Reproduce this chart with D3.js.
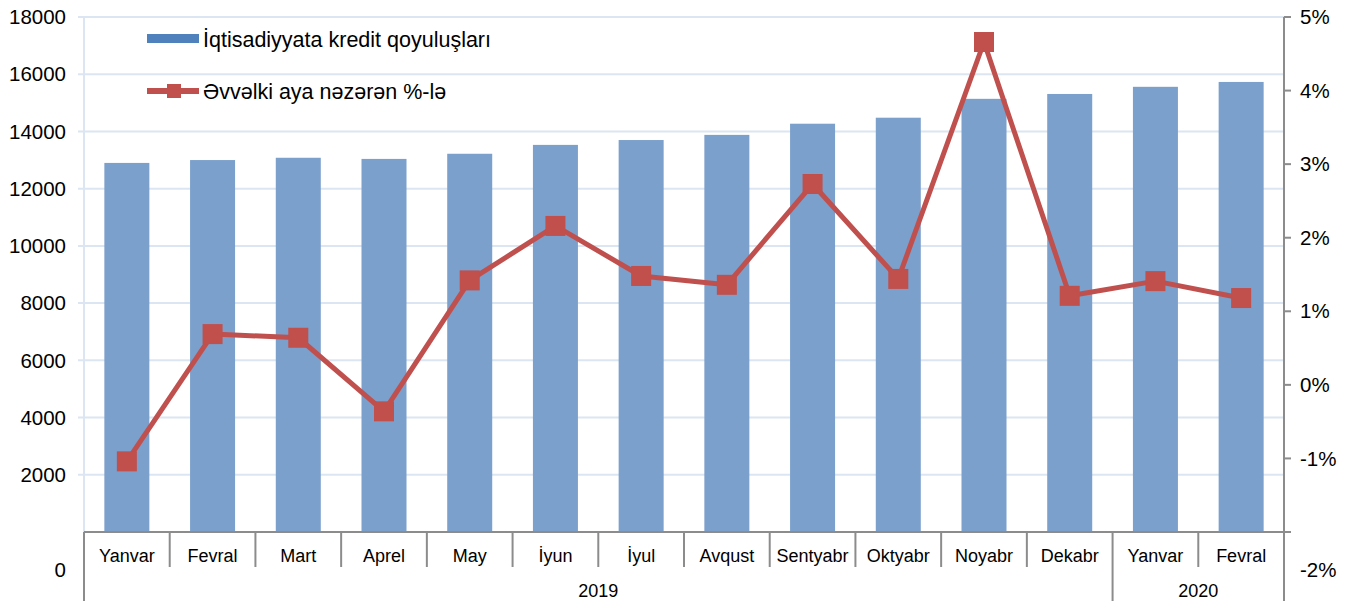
<!DOCTYPE html>
<html>
<head>
<meta charset="utf-8">
<script src="https://cdn.jsdelivr.net/npm/d3@7"></script>
<style>
  body { margin: 0; background: #fff; }
  text { font-family: "Liberation Sans", Arial, sans-serif; fill: #000; }
</style>
</head>
<body>
<svg width="1357" height="601"></svg>
<script>
const months = ["Yanvar", "Fevral", "Mart", "Aprel", "May", "İyun", "İyul", "Avqust",
    "Sentyabr", "Oktyabr", "Noyabr", "Dekabr", "Yanvar", "Fevral"];
const years = [{ label: "2019", from: 0, to: 11 }, { label: "2020", from: 12, to: 13 }];
const credit = [12900, 13000, 13080, 13040, 13220, 13530, 13700, 13880, 14270, 14480, 15140, 15310, 15560, 15730];
const change = [-1.04, 0.69, 0.64, -0.36, 1.42, 2.16, 1.48, 1.36, 2.73, 1.44, 4.66, 1.21, 1.41, 1.18];
const leftTicks = [2000, 4000, 6000, 8000, 10000, 12000, 14000, 16000, 18000];
const rightTicks = [-1, 0, 1, 2, 3, 4, 5];

const plotLeft = 84, plotRight = 1284, plotTop = 17, plotBottom = 532;

const svg = d3.select("svg");

const x = d3.scaleBand()
    .domain(d3.range(months.length))
    .range([plotLeft, plotRight])
    .paddingInner(0.475)
    .paddingOuter(0.2375);

const yL = d3.scaleLinear().domain([0, 18000]).range([plotBottom, plotTop]);
const yR = d3.scaleLinear().domain([-2, 5]).range([plotBottom, plotTop]);

// gridlines
svg.append("g")
    .selectAll("line")
    .data(leftTicks)
    .enter().append("line")
    .attr("x1", plotLeft - 6)
    .attr("x2", plotRight)
    .attr("y1", d => yL(d))
    .attr("y2", d => yL(d))
    .attr("stroke", "#dce6f2")
    .attr("stroke-width", 2);

svg.append("line")
    .attr("x1", plotLeft).attr("x2", plotLeft)
    .attr("y1", plotTop).attr("y2", plotBottom)
    .attr("stroke", "#dce6f2").attr("stroke-width", 2);

// left labels
svg.append("g")
    .selectAll("text")
    .data(leftTicks)
    .enter().append("text")
    .attr("x", 66)
    .attr("y", d => yL(d))
    .attr("dy", "0.35em")
    .attr("text-anchor", "end")
    .attr("font-size", 20.5)
    .text(d => d);

svg.append("text")
    .attr("x", 66).attr("y", 570).attr("dy", "0.35em")
    .attr("text-anchor", "end").attr("font-size", 20.5).text("0");

// bars
svg.append("g")
    .selectAll("rect")
    .data(credit)
    .enter().append("rect")
    .attr("x", (d, i) => x(i))
    .attr("width", x.bandwidth())
    .attr("y", d => yL(d))
    .attr("height", d => plotBottom - yL(d))
    .attr("fill", "#7ba0cb");

// category axis
const axisColor = "#8c8c8c";
svg.append("line")
    .attr("x1", plotLeft).attr("x2", plotRight)
    .attr("y1", plotBottom).attr("y2", plotBottom)
    .attr("stroke", axisColor).attr("stroke-width", 2);

const step = x.step();
svg.append("g")
    .selectAll("line")
    .data(d3.range(months.length + 1))
    .enter().append("line")
    .attr("x1", i => plotLeft + i * step)
    .attr("x2", i => plotLeft + i * step)
    .attr("y1", plotBottom)
    .attr("y2", i => (i === 0 || i === months.length || i === 12) ? 601 : 567)
    .attr("stroke", axisColor)
    .attr("stroke-width", 2);

svg.append("g")
    .selectAll("text")
    .data(months)
    .enter().append("text")
    .attr("x", (d, i) => x(i) + x.bandwidth() / 2)
    .attr("y", 562)
    .attr("text-anchor", "middle")
    .attr("font-size", 18)
    .text(d => d);

svg.append("g")
    .selectAll("text")
    .data(years)
    .enter().append("text")
    .attr("x", d => (plotLeft + d.from * step + plotLeft + (d.to + 1) * step) / 2)
    .attr("y", 597)
    .attr("text-anchor", "middle")
    .attr("font-size", 18)
    .text(d => d.label);

// right axis
svg.append("line")
    .attr("x1", plotRight).attr("x2", plotRight)
    .attr("y1", plotTop).attr("y2", plotBottom)
    .attr("stroke", axisColor).attr("stroke-width", 2);

svg.append("g")
    .selectAll("line")
    .data([-2].concat(rightTicks))
    .enter().append("line")
    .attr("x1", plotRight).attr("x2", plotRight + 7)
    .attr("y1", d => yR(d)).attr("y2", d => yR(d))
    .attr("stroke", axisColor).attr("stroke-width", 2);

svg.append("g")
    .selectAll("text")
    .data(rightTicks)
    .enter().append("text")
    .attr("x", 1300)
    .attr("y", d => yR(d))
    .attr("dy", "0.35em")
    .attr("font-size", 20.5)
    .text(d => d + "%");

svg.append("text")
    .attr("x", 1300).attr("y", 570).attr("dy", "0.35em")
    .attr("font-size", 20.5).text("-2%");

// line series
const red = "#c0504d";
const line = d3.line()
    .x((d, i) => x(i) + x.bandwidth() / 2)
    .y(d => yR(d));

svg.append("path")
    .datum(change)
    .attr("d", line)
    .attr("fill", "none")
    .attr("stroke", red)
    .attr("stroke-width", 5)
    .attr("stroke-linejoin", "round");

svg.append("g")
    .selectAll("rect")
    .data(change)
    .enter().append("rect")
    .attr("x", (d, i) => x(i) + x.bandwidth() / 2 - 10)
    .attr("y", d => yR(d) - 10)
    .attr("width", 20)
    .attr("height", 20)
    .attr("fill", "#c14f4c");

// legend
svg.append("rect")
    .attr("x", 147).attr("y", 34).attr("width", 52).attr("height", 9)
    .attr("fill", "#4f81bd");
svg.append("text")
    .attr("x", 203).attr("y", 39).attr("dy", "0.35em")
    .attr("font-size", 21.5).text("İqtisadiyyata kredit qoyuluşları");

svg.append("line")
    .attr("x1", 147).attr("x2", 199).attr("y1", 91).attr("y2", 91)
    .attr("stroke", red).attr("stroke-width", 6);
svg.append("rect")
    .attr("x", 167).attr("y", 84).attr("width", 14).attr("height", 14)
    .attr("fill", "#c14f4c");
svg.append("text")
    .attr("x", 203).attr("y", 91).attr("dy", "0.35em")
    .attr("font-size", 21.5).text("Əvvəlki aya nəzərən %-lə");
</script>
</body>
</html>
